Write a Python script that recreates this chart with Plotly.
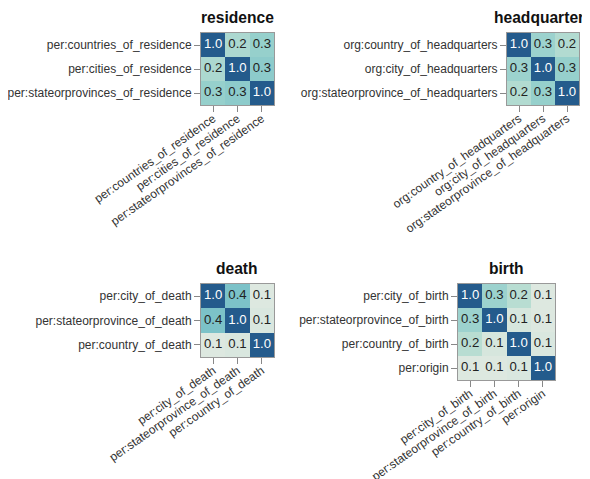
import plotly.graph_objects as go

# ---- data ----
residence_labels = ["per:countries_of_residence", "per:cities_of_residence",
                    "per:stateorprovinces_of_residence"]
residence_values = [[1.0, 0.24, 0.31],
                    [0.24, 1.0, 0.34],
                    [0.31, 0.34, 1.0]]

headquarters_labels = ["org:country_of_headquarters", "org:city_of_headquarters",
                       "org:stateorprovince_of_headquarters"]
headquarters_values = [[1.0, 0.29, 0.22],
                       [0.29, 1.0, 0.31],
                       [0.22, 0.31, 1.0]]

death_labels = ["per:city_of_death", "per:stateorprovince_of_death", "per:country_of_death"]
death_values = [[1.0, 0.40, 0.10],
                [0.40, 1.0, 0.11],
                [0.10, 0.11, 1.0]]

birth_labels = ["per:city_of_birth", "per:stateorprovince_of_birth",
                "per:country_of_birth", "per:origin"]
birth_values = [[1.0, 0.29, 0.20, 0.10],
                [0.29, 1.0, 0.12, 0.10],
                [0.20, 0.12, 1.0, 0.11],
                [0.10, 0.10, 0.11, 1.0]]

titles = ["residence", "headquarters", "death", "birth"]

# ---- styling ----
W, H = 590, 479
OFF = 7  # page offset of the plot div
colorscale = [
    [0.0, "#e9ede7"],
    [0.1, "#dde8e0"],
    [0.2, "#b8ddd2"],
    [0.3, "#99d1cd"],
    [0.4, "#7cc2c8"],
    [0.6, "#4f9fba"],
    [0.8, "#3479a3"],
    [1.0, "#245b8c"],
]
FONT = "Liberation Sans, Arial, sans-serif"

# panel boxes in screen pixels: (left, right, top, bottom)
boxes = [(200, 273, 32, 104), (506, 578, 32, 104),
         (200, 273, 283, 356), (457, 554, 283, 379)]

panels = [(residence_labels, residence_values),
          (headquarters_labels, headquarters_values),
          (death_labels, death_values),
          (birth_labels, birth_values)]

fig = go.Figure()
layout = dict(
    template="none",
    width=W, height=H,
    margin=dict(l=0, r=0, t=0, b=0, autoexpand=False),
    paper_bgcolor="white", plot_bgcolor="white",
    showlegend=False,
    font=dict(family=FONT, size=12, color="#333"),
    annotations=[],
)

for i, ((labels, vals), box, title) in enumerate(zip(panels, boxes, titles)):
    l, r, t, b = [v - OFF for v in box]
    n = i + 1
    xa = "x" if n == 1 else f"x{n}"
    ya = "y" if n == 1 else f"y{n}"
    fig.add_trace(go.Heatmap(
        z=vals, x=labels, y=labels,
        colorscale=colorscale, zmin=0, zmax=1, showscale=False,
        xaxis=xa, yaxis=ya, xgap=0, ygap=0,
        hovertemplate="%{y} / %{x}: %{z:.2f}<extra></extra>",
    ))
    xs, ys, txt, cols = [], [], [], []
    for ri, rl in enumerate(labels):
        for ci, cl in enumerate(labels):
            v = vals[ri][ci]
            xs.append(cl)
            ys.append(rl)
            txt.append(f"{v:.1f}")
            cols.append("white" if v > 0.6 else "#222")
    fig.add_trace(go.Scatter(
        x=xs, y=ys, text=txt, mode="text",
        textfont=dict(family=FONT, size=13.2, color=cols),
        xaxis=xa, yaxis=ya, hoverinfo="skip",
    ))
    xkey = "xaxis" if n == 1 else f"xaxis{n}"
    ykey = "yaxis" if n == 1 else f"yaxis{n}"
    layout[xkey] = dict(
        domain=[l / W, r / W], anchor=ya, type="category", automargin=False,
        categoryorder="array", categoryarray=labels,
        tickangle=-35, ticks="outside", ticklen=6, tickcolor="#888",
        ticklabelstandoff=-5,
        showline=True, mirror=True, linecolor="#999", linewidth=1,
        showgrid=False, zeroline=False, fixedrange=True,
        tickfont=dict(family=FONT, size=12, color="#333"),
    )
    layout[ykey] = dict(
        domain=[1 - b / H, 1 - t / H], anchor=xa, type="category", automargin=False,
        categoryorder="array", categoryarray=labels[::-1],
        ticks="outside", ticklen=6, tickcolor="#888",
        showline=True, mirror=True, linecolor="#999", linewidth=1,
        showgrid=False, zeroline=False, fixedrange=True,
        tickfont=dict(family=FONT, size=12, color="#333"),
    )
    layout["annotations"].append(dict(
        text=f"<b>{title}</b>", xref="paper", yref="paper",
        x=(l + r) / 2 / W, y=1 - (t - 5) / H,
        xanchor="center", yanchor="bottom", showarrow=False,
        font=dict(family=FONT, size=15.6, color="#111"),
    ))

fig.update_layout(**layout)
fig.write_html("out.html")
